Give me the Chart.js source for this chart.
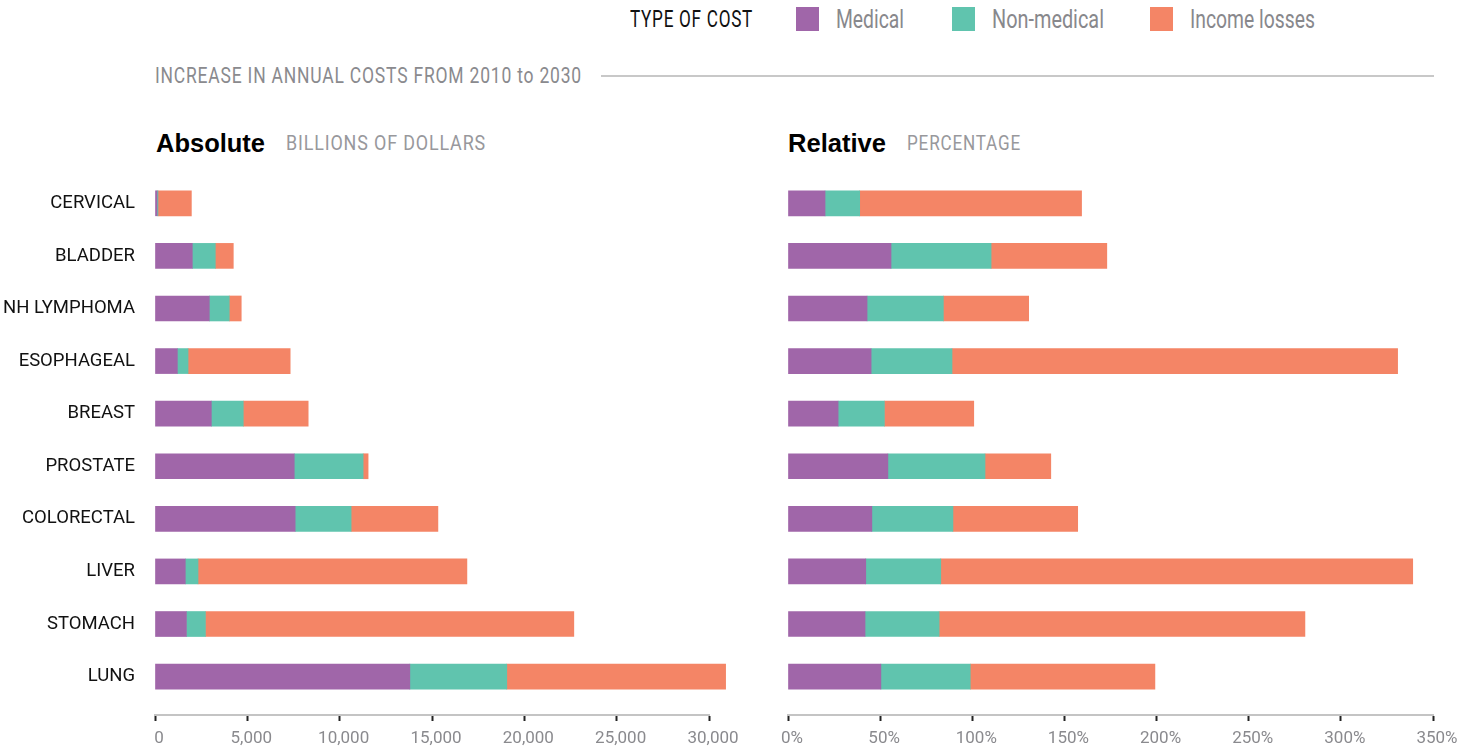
<!DOCTYPE html>
<html>
<head>
<meta charset="utf-8">
<script src="https://cdn.jsdelivr.net/npm/chart.js@4.4.1/dist/chart.umd.min.js"></script>
<style>
  body { margin: 0; background: #fff; width: 1468px; height: 755px; overflow: hidden; position: relative; }
  .narrow { font-family: Roboto, "DejaVu Sans", sans-serif; }
  .t { position: absolute; white-space: nowrap; height: 30px; line-height: 30px; transform-origin: 0 50%; }
  .sw { position: absolute; top: 7px; width: 23px; height: 24px; }
  .head { font-family: "Liberation Sans", Arial, sans-serif; font-weight: bold; font-size: 25px; color: #000; }
  .sub { font-size: 21px; color: #98989c; letter-spacing: 1px; }
  canvas { position: absolute; }
</style>
</head>
<body>
<!-- legend -->
<div class="t narrow" data-w="123" style="left:630px; top:4px; font-size:24px; color:#111; letter-spacing:1px;">TYPE OF COST</div>
<div class="sw" style="left:796px; background:#a066a9;"></div>
<div class="t narrow" data-w="68" style="left:836px; top:4px; font-size:26px; color:#88888c;">Medical</div>
<div class="sw" style="left:952px; background:#60c4ae;"></div>
<div class="t narrow" data-w="112" style="left:992px; top:4px; font-size:26px; color:#88888c;">Non-medical</div>
<div class="sw" style="left:1150px; background:#f48566;"></div>
<div class="t narrow" data-w="125" style="left:1190px; top:4px; font-size:26px; color:#88888c;">Income losses</div>

<!-- title -->
<div class="t narrow" data-w="427" style="left:155px; top:61px; font-size:22px; color:#8a8a8e; letter-spacing:1px;">INCREASE IN ANNUAL COSTS FROM 2010 to 2030</div>
<div style="position:absolute; left:601px; top:75px; width:833px; height:2px; background:#c8c8c8;"></div>

<div class="t head" data-w="109" style="left:156px; top:128px;">Absolute</div>
<div class="t narrow sub" data-w="200" style="left:286px; top:128px;">BILLIONS OF DOLLARS</div>
<div class="t head" data-w="98" style="left:788px; top:128px;">Relative</div>
<div class="t narrow sub" data-w="114" style="left:907px; top:128px;">PERCENTAGE</div>

<canvas id="absChart" style="left:0px; top:165px;" width="760" height="590"></canvas>
<canvas id="relChart" style="left:760px; top:165px;" width="708" height="590"></canvas>

<script>
const categories = ['CERVICAL', 'BLADDER', 'NH LYMPHOMA', 'ESOPHAGEAL', 'BREAST',
                    'PROSTATE', 'COLORECTAL', 'LIVER', 'STOMACH', 'LUNG'];
const costTypes = ['Medical', 'Non-medical', 'Income losses'];

// absolute increase, billions of dollars
const medicalAbs = [110, 2020, 2940, 1210, 3050, 7540, 7590, 1640, 1700, 13800];
const nonMedicalAbs = [50, 1245, 1080, 580, 1730, 3730, 3030, 690, 1030, 5250];
const incomeAbs = [1810, 975, 650, 5530, 3515, 270, 4700, 14560, 19950, 11850];

// relative increase, percent
const medicalRel = [20.1, 55.9, 42.9, 45.1, 27.2, 54.2, 45.5, 42.2, 41.8, 50.4];
const nonMedicalRel = [18.8, 54.3, 41.4, 43.9, 25.1, 52.7, 44.0, 40.7, 40.2, 48.5];
const incomeRel = [120.4, 62.8, 46.3, 241.8, 48.5, 35.7, 67.7, 256.1, 198.5, 100.2];

const absTicks = [0, 5000, 10000, 15000, 20000, 25000, 30000];
const relTicks = [0, 50, 100, 150, 200, 250, 300, 350];

const colors = ['#a066a9', '#60c4ae', '#f48566'];

// squeeze the html texts to the widths of the condensed face in the original
document.querySelectorAll('[data-w]').forEach(el => {
    const w = el.getBoundingClientRect().width;
    el.style.transform = 'scaleX(' + (el.dataset.w / w) + ')';
});

Chart.defaults.font.family = 'Roboto, "DejaVu Sans", sans-serif';

function makeDatasets(seriesList) {
    return seriesList.map((values, k) => ({
        label: costTypes[k],
        data: values.map((v, i) => ({ x: v, y: i })),
        backgroundColor: colors[k],
        borderWidth: 0,
        barThickness: 25,
        clip: false
    }));
}

function yScale(showLabels) {
    return {
        type: 'linear',
        reverse: true,
        stacked: true,
        offset: false,
        min: -0.5,
        max: 9.73,
        display: showLabels,
        afterBuildTicks: (scale) => {
            scale.ticks = categories.map((c, i) => ({ value: i }));
        },
        afterFit: (scale) => {
            if (showLabels) scale.width = 155;
            scale.paddingTop = 0;
            scale.paddingBottom = 0;
        },
        grid: { display: false, drawTicks: false, offset: false },
        border: { display: false },
        ticks: {
            autoSkip: false,
            padding: 20,
            color: '#111',
            font: { size: 18.5 },
            callback: (v) => categories[v]
        }
    };
}

function xScale(max, tickValues, fmt) {
    return {
        type: 'linear',
        stacked: true,
        min: 0,
        max: max,
        afterBuildTicks: (scale) => {
            scale.ticks = tickValues.map(v => ({ value: v }));
        },
        afterFit: (scale) => { scale.height = 40; },
        grid: {
            drawOnChartArea: false,
            drawTicks: true,
            tickLength: 6,
            tickWidth: 2,
            tickColor: '#222'
        },
        border: { color: '#c4c4c4', width: 2 },
        ticks: {
            padding: 8,
            labelOffset: 4,
            color: '#8a8a8e',
            font: { size: 17 },
            maxRotation: 0,
            autoSkip: false,
            callback: fmt
        }
    };
}

new Chart(document.getElementById('absChart'), {
    type: 'bar',
    data: { datasets: makeDatasets([medicalAbs, nonMedicalAbs, incomeAbs]) },
    options: {
        indexAxis: 'y',
        responsive: false,
        animation: false,
        layout: { padding: { top: 12, right: 51, left: 0, bottom: 0 } },
        plugins: { legend: { display: false }, tooltip: { enabled: false } },
        scales: {
            x: xScale(30000, absTicks, (v) => v.toLocaleString('en-US')),
            y: yScale(true)
        }
    }
});

new Chart(document.getElementById('relChart'), {
    type: 'bar',
    data: { datasets: makeDatasets([medicalRel, nonMedicalRel, incomeRel]) },
    options: {
        indexAxis: 'y',
        responsive: false,
        animation: false,
        layout: { padding: { top: 12, right: 35, left: 28, bottom: 0 } },
        plugins: { legend: { display: false }, tooltip: { enabled: false } },
        scales: {
            x: xScale(350, relTicks, (v) => v + '%'),
            y: yScale(false)
        }
    }
});
</script>
</body>
</html>
